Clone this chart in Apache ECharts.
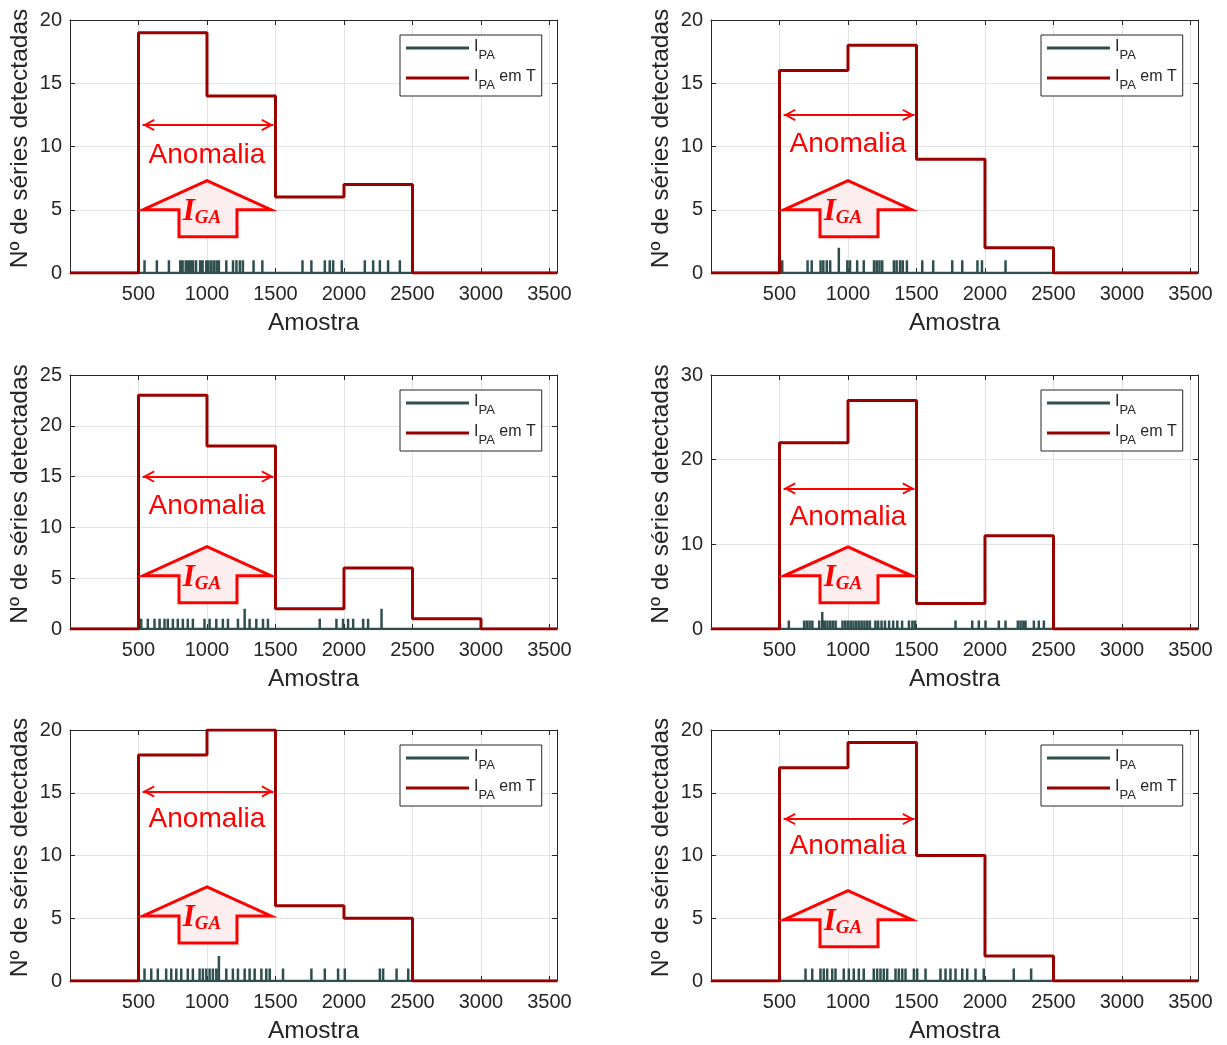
<!DOCTYPE html>
<html><head><meta charset="utf-8">
<script src="https://cdn.jsdelivr.net/npm/echarts@6/dist/echarts.min.js"></script>
<style>html,body{margin:0;padding:0;background:#fff}#c{width:1227px;height:1045px}</style>
</head><body><div id="c"></div>
<script>
// ---------- DATA ----------
const xTickValues = [500, 1000, 1500, 2000, 2500, 3000, 3500];
const binStarts = [0, 500, 1000, 1500, 2000, 2500, 3000];
const xEnd = 3555;

const stepP1 = [0, 19, 14, 6, 7, 0, 0];
const stepP2 = [0, 16, 18, 9, 2, 0, 0];
const stepP3 = [0, 23, 18, 2, 6, 1, 0];
const stepP4 = [0, 22, 27, 3, 11, 0, 0];
const stepP5 = [0, 18, 20, 6, 5, 0, 0];
const stepP6 = [0, 17, 19, 10, 2, 0, 0];

const spikesP1 = [544, 634, 722, 805, 822, 845, 862, 880, 898, 920, 950, 968, 995, 1010, 1030, 1050, 1070, 1087, 1141, 1190, 1215, 1240, 1262, 1340, 1404, 1697, 1762, 1860, 1896, 1921, 1984, 2152, 2213, 2262, 2322, 2408];
const tallP1 = [];
const spikesP2 = [520, 705, 735, 800, 820, 845, 870, 933, 995, 1015, 1067, 1115, 1190, 1210, 1230, 1250, 1335, 1355, 1380, 1400, 1430, 1542, 1622, 1761, 1834, 1945, 1978, 2150];
const tallP2 = [933];
const spikesP3 = [520, 568, 617, 654, 690, 714, 751, 787, 824, 860, 897, 982, 1019, 1068, 1116, 1153, 1226, 1275, 1311, 1360, 1409, 1445, 1823, 1945, 1993, 2030, 2067, 2140, 2176, 2274];
const tallP3 = [1275, 2274];
const spikesP4 = [568, 680, 700, 720, 740, 790, 812, 830, 850, 870, 890, 910, 960, 980, 1000, 1020, 1040, 1060, 1080, 1100, 1120, 1140, 1160, 1200, 1220, 1245, 1270, 1300, 1330, 1360, 1395, 1445, 1470, 1490, 1785, 1907, 1955, 2004, 2101, 2150, 2240, 2260, 2280, 2296, 2357, 2393, 2430];
const tallP4 = [812];
const spikesP5 = [544, 593, 641, 702, 739, 776, 812, 860, 897, 946, 970, 995, 1019, 1043, 1068, 1087, 1141, 1189, 1226, 1275, 1311, 1348, 1397, 1433, 1458, 1555, 1762, 1860, 1957, 2006, 2262, 2286, 2384, 2469];
const tallP5 = [1087];
const spikesP6 = [690, 739, 799, 823, 848, 885, 909, 969, 1006, 1042, 1079, 1115, 1188, 1213, 1237, 1261, 1286, 1347, 1371, 1396, 1420, 1481, 1505, 1566, 1675, 1712, 1748, 1785, 1834, 1870, 1931, 1991, 2210, 2337];
const tallP6 = [];

const yMaxes = [20, 20, 25, 30, 20, 20];
const yIntervals = [5, 5, 5, 10, 5, 5];

// annotation anchors (data units)
const anomalyStart = 530, anomalyEnd = 1485, annotX = 1000;
const anomalyArrowY = [11.7, 12.5, 15.0, 16.6, 15.1, 12.9];
const anomalyTextY = [9.3, 10.2, 12.1, 13.2, 12.9, 10.7];
const iGaTipY = [7.3, 7.3, 8.1, 9.7, 7.5, 7.2];

const seriesNameA = 'IPA';
const seriesNameB = 'IPA em T';
const xName = 'Amostra';
const yName = 'Nº de séries detectadas';

// ---------- LAYOUT / STYLE ----------
const gridLeft = [70, 711, 70, 711, 70, 711];
const gridTop = [20, 20, 375, 375, 730, 730];
const gridH = [253, 253, 254, 254, 255, 255];
const gridW = 487;
const FONT = "'Liberation Sans', Arial, sans-serif";
const AX = '#262626';
const GRIDC = '#e3e3e3';
const GREEN = '#2F4F4F';
const DARKRED = '#990000';
const RED = '#FF0000';

const steps = [stepP1, stepP2, stepP3, stepP4, stepP5, stepP6];
const spikes = [spikesP1, spikesP2, spikesP3, spikesP4, spikesP5, spikesP6];
const talls = [tallP1, tallP2, tallP3, tallP4, tallP5, tallP6];

function stepData(vals) {
  const d = binStarts.map((x, k) => [x, vals[k]]);
  d.push([xEnd, 0]);
  return d;
}
function spikeData(pos, tall) {
  const d = [[0, 0]];
  pos.forEach(s => { const h = tall.includes(s) ? 2 : 1; d.push([s, 0], [s, h], [s, 0]); });
  d.push([xEnd, 0]);
  return d;
}

const grid = [], xAxis = [], yAxis = [], series = [], legend = [];
const chevron = 'path://M5,0 L10,9 L8.6,9.6 L5,3.2 L1.4,9.6 L0,9 Z';

for (let i = 0; i < 6; i++) {
  grid.push({ left: gridLeft[i], top: gridTop[i], width: gridW, height: gridH[i], containLabel: false });
  xAxis.push({
    type: 'value', gridIndex: i, min: 0, max: xEnd, interval: 500,
    axisLine: { show: true, lineStyle: { color: AX, width: 1 } },
    axisTick: { show: true, inside: true, length: 5, lineStyle: { color: AX } },
    axisLabel: { fontFamily: FONT, fontSize: 20, color: AX, margin: 11,
      formatter: v => (xTickValues.includes(v) ? String(v) : '') },
    splitLine: { show: true, lineStyle: { color: GRIDC, width: 1 } },
    name: xName, nameLocation: 'middle', nameGap: 38,
    nameTextStyle: { fontFamily: FONT, fontSize: 24.5, color: AX }
  });
  yAxis.push({
    type: 'value', gridIndex: i, min: 0, max: yMaxes[i], interval: yIntervals[i],
    axisLine: { show: true, lineStyle: { color: AX, width: 1 } },
    axisTick: { show: true, inside: true, length: 5, lineStyle: { color: AX } },
    axisLabel: { fontFamily: FONT, fontSize: 20, color: AX, margin: 8 },
    splitLine: { show: true, lineStyle: { color: GRIDC, width: 1 } },
    name: yName, nameLocation: 'middle', nameGap: 37, nameRotate: 90,
    nameTextStyle: { fontFamily: FONT, fontSize: 24.5, color: AX, padding: [0, 0, 0, 16] }
  });
}
for (let i = 0; i < 6; i++) {
  xAxis.push({
    type: 'value', gridIndex: i, min: 0, max: xEnd, interval: 500, position: 'top',
    axisLine: { show: true, onZero: false, lineStyle: { color: AX, width: 1 } },
    axisTick: { show: true, inside: true, length: 5, lineStyle: { color: AX } },
    axisLabel: { show: false }, splitLine: { show: false }
  });
  yAxis.push({
    type: 'value', gridIndex: i, min: 0, max: yMaxes[i], interval: yIntervals[i], position: 'right',
    axisLine: { show: true, onZero: false, lineStyle: { color: AX, width: 1 } },
    axisTick: { show: true, inside: true, length: 5, lineStyle: { color: AX } },
    axisLabel: { show: false }, splitLine: { show: false }
  });
}
for (let i = 0; i < 6; i++) {
  series.push({
    name: seriesNameA, type: 'line', xAxisIndex: i, yAxisIndex: i,
    data: spikeData(spikes[i], talls[i]), symbol: 'none',
    lineStyle: { color: GREEN, width: 2.5 }, itemStyle: { color: GREEN }, z: 2
  });
  series.push({
    name: seriesNameB, type: 'line', step: 'end', xAxisIndex: i, yAxisIndex: i,
    data: stepData(steps[i]), symbol: 'none',
    lineStyle: { color: DARKRED, width: 3 }, itemStyle: { color: DARKRED }, z: 3,
    markLine: {
      silent: true, animation: false, symbol: [chevron, chevron], symbolSize: 12,
      symbolOffset: [[0, 6], [0, 6]],
      label: { show: false },
      lineStyle: { color: RED, width: 2, type: 'solid' },
      data: [[{ coord: [anomalyStart, anomalyArrowY[i]] }, { coord: [anomalyEnd, anomalyArrowY[i]] }]]
    }
  });
  legend.push({
    data: [seriesNameA, seriesNameB], selectedMode: false, orient: 'vertical',
    left: gridLeft[i] + 330, top: gridTop[i] + 15,
    backgroundColor: '#fff', borderColor: AX, borderWidth: 1, borderRadius: 0,
    padding: [4, 6, 4, 6], itemGap: 7, itemWidth: 63, itemHeight: 3, icon: 'rect',
    formatter: n => (n === seriesNameA ? '{i|I}{s|PA}' : '{i|I}{s|PA}{i| em T}'),
    textStyle: {
      fontFamily: FONT, color: AX,
      rich: {
        i: { fontFamily: FONT, fontSize: 16, color: AX, lineHeight: 18, verticalAlign: 'top' },
        s: { fontFamily: FONT, fontSize: 13, color: AX, lineHeight: 13, padding: [10, 0, 0, 0], verticalAlign: 'top' }
      }
    }
  });
}

const chart = echarts.init(document.getElementById('c'), null, { renderer: 'canvas' });
chart.setOption({ animation: false, backgroundColor: '#fff', grid, xAxis, yAxis, series, legend });

const fatArrow = [[0, 0], [64, 29], [30, 29], [30, 56], [-28, 56], [-28, 29], [-64, 29]];
const graphics = [];
for (let i = 0; i < 6; i++) {
  const tip = chart.convertToPixel({ xAxisIndex: i, yAxisIndex: i }, [annotX, iGaTipY[i]]);
  const tp = chart.convertToPixel({ xAxisIndex: i, yAxisIndex: i }, [annotX, anomalyTextY[i]]);
  graphics.push({
    type: 'polygon', z: 10, silent: true,
    shape: { points: fatArrow.map(p => [tip[0] + p[0], tip[1] + p[1]]) },
    style: { fill: '#FCEDEE', stroke: RED, lineWidth: 3, lineJoin: 'miter' }
  });
  graphics.push({
    type: 'text', z: 11, silent: true, x: tip[0] - 5, y: tip[1] + 31,
    style: {
      text: '{i|I}{s|GA}', align: 'center', verticalAlign: 'middle',
      rich: {
        i: { fontFamily: "'Liberation Serif', serif", fontSize: 31, fontWeight: 'bold', fontStyle: 'italic', fill: RED, lineHeight: 30, verticalAlign: 'top' },
        s: { fontFamily: "'Liberation Serif', serif", fontSize: 19, fontWeight: 'bold', fontStyle: 'italic', fill: RED, lineHeight: 19, padding: [12, 0, 0, 0], verticalAlign: 'top' }
      }
    }
  });
  graphics.push({
    type: 'text', z: 11, silent: true, x: tp[0], y: tp[1],
    style: { text: 'Anomalia', fontFamily: FONT, fontSize: 28, fill: RED, align: 'center', verticalAlign: 'middle' }
  });
}
chart.setOption({ graphic: graphics });
</script></body></html>
